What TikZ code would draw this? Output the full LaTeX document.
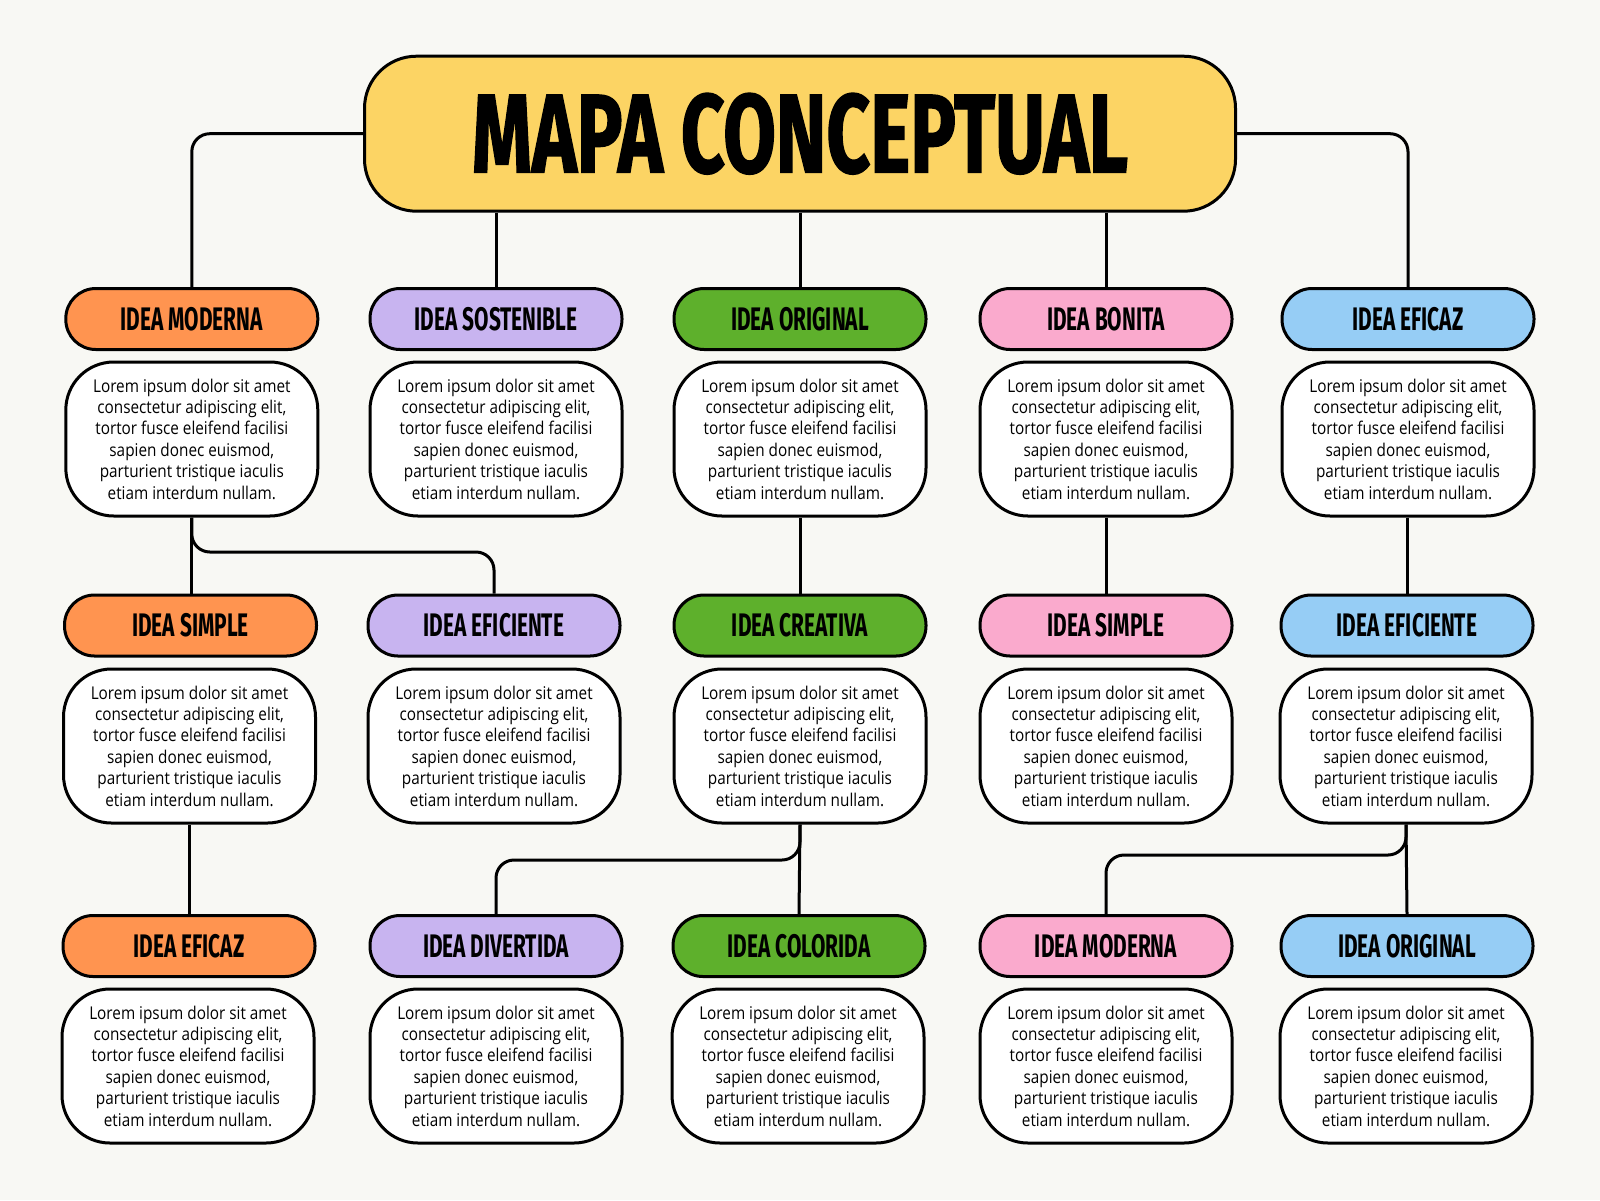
\documentclass[tikz,border=0pt]{standalone}
\usepackage{fontspec}
\setmainfont{Open Sans}
\newfontfamily\bodyfont[FakeStretch=0.87]{Open Sans}
\newfontfamily\headfont[FakeStretch=0.64]{Fira Sans}
\newfontfamily\titlefont[FakeStretch=0.68,FakeBold=1.2]{Fira Sans}
\definecolor{bgc}{RGB}{248,248,244}
\definecolor{ttlc}{RGB}{252,212,100}
\definecolor{orc}{RGB}{255,148,80}
\definecolor{lvc}{RGB}{200,180,240}
\definecolor{grc}{RGB}{94,176,44}
\definecolor{pkc}{RGB}{250,170,205}
\definecolor{blc}{RGB}{150,205,245}
\tikzset{
  hd/.style={draw=black, line width=1.5pt, rounded corners=15pt, minimum width=126pt, minimum height=30.5pt, inner sep=0pt, font=\headfont\bfseries\fontsize{16.3}{16}\selectfont},
  bx/.style={draw=black, fill=white, line width=1.5pt, rounded corners=24pt, minimum width=126pt, minimum height=77pt, inner sep=0pt, align=center, font=\bodyfont\fontsize{8.8}{10.7}\selectfont},
  ttl/.style={draw=black, fill=ttlc, line width=1.5pt, rounded corners=26pt, minimum width=435.5pt, minimum height=77.5pt, inner sep=0pt, font=\titlefont\bfseries\fontsize{56}{56}\selectfont},
  conn/.style={draw=black, line width=1.5pt, rounded corners=9pt}
}
\newcommand{\lorem}{Lorem ipsum dolor sit amet\\ consectetur adipiscing elit,\\ tortor fusce eleifend facilisi\\ sapien donec euismod,\\ parturient tristique iaculis\\ etiam interdum nullam.}
\begin{document}
\begin{tikzpicture}[x=0.5pt,y=-0.5pt]
\fill[bgc] (0,0) rectangle (1600,1200);
\useasboundingbox (0,0) rectangle (1600,1200);
% title
\node[ttl] (title) at (800,133.7) {MAPA CONCEPTUAL};
% row 1
\node[hd, fill=orc] (h11) at (191.8,319) {IDEA MODERNA};
\node[hd, fill=lvc] (h12) at (496,319) {IDEA SOSTENIBLE};
\node[hd, fill=grc] (h13) at (800,319) {IDEA ORIGINAL};
\node[hd, fill=pkc] (h14) at (1106,319) {IDEA BONITA};
\node[hd, fill=blc] (h15) at (1408,319) {IDEA EFICAZ};
\node[bx] (t11) at (191.8,439) {\lorem};
\node[bx] (t12) at (496,439) {\lorem};
\node[bx] (t13) at (800,439) {\lorem};
\node[bx] (t14) at (1106,439) {\lorem};
\node[bx] (t15) at (1408,439) {\lorem};
% row 2
\node[hd, fill=orc] (h21) at (190.5,625.5) {IDEA SIMPLE};
\node[hd, fill=lvc] (h22) at (494,625.5) {IDEA EFICIENTE};
\node[hd, fill=grc] (h23) at (800,625.5) {IDEA CREATIVA};
\node[hd, fill=pkc] (h24) at (1106,625.5) {IDEA SIMPLE};
\node[hd, fill=blc] (h25) at (1407,625.5) {IDEA EFICIENTE};
\node[bx] (t21) at (189.5,746) {\lorem};
\node[bx] (t22) at (494,746) {\lorem};
\node[bx] (t23) at (800,746) {\lorem};
\node[bx] (t24) at (1106,746) {\lorem};
\node[bx] (t25) at (1406,746) {\lorem};
% row 3
\node[hd, fill=orc] (h31) at (189,946) {IDEA EFICAZ};
\node[hd, fill=lvc] (h32) at (496,946) {IDEA DIVERTIDA};
\node[hd, fill=grc] (h33) at (799,946) {IDEA COLORIDA};
\node[hd, fill=pkc] (h34) at (1106,946) {IDEA MODERNA};
\node[hd, fill=blc] (h35) at (1407,946) {IDEA ORIGINAL};
\node[bx] (t31) at (188,1066) {\lorem};
\node[bx] (t32) at (496,1066) {\lorem};
\node[bx] (t33) at (798,1066) {\lorem};
\node[bx] (t34) at (1106,1066) {\lorem};
\node[bx] (t35) at (1406,1066) {\lorem};
% title connectors
\draw[conn] (title.west) -| (h11.north);
\draw[conn] (title.east) -| (h15.north);
\draw[conn] (h12.north |- title.south) -- (h12.north);
\draw[conn] (h13.north |- title.south) -- (h13.north);
\draw[conn] (h14.north |- title.south) -- (h14.north);
% row1 -> row2
\coordinate (b1) at (191.8,552);
\draw[conn] (t11.south) -- (t11.south |- h21.north);
\draw[conn] (t11.south) -- (b1) -| (h22.north);
\draw[conn] (t13.south) -- (h23.north);
\draw[conn] (t14.south) -- (h24.north);
\draw[conn] (t15.south -| h25.north) -- (h25.north);
% row2 -> row3
\draw[conn] (t21.south -| h31.north) -- (h31.north);
\coordinate (b2) at (800,860);
\draw[conn] (t23.south) -- (h33.north);
\draw[conn] (t23.south) -- (b2) -| (h32.north);
\coordinate (b3) at (1406,855);
\draw[conn] (t25.south) -- (h35.north);
\draw[conn] (t25.south) -- (b3) -| (h34.north);
\end{tikzpicture}
\end{document}
